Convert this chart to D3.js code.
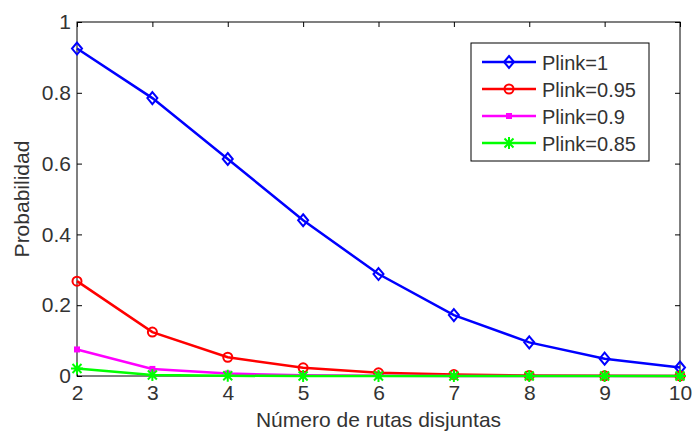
<!DOCTYPE html>
<html>
<head>
<meta charset="utf-8">
<script src="https://cdn.jsdelivr.net/npm/d3@7"></script>
<style>
  body { margin: 0; background: #fff; }
  svg { font-family: "Liberation Sans", Arial, sans-serif; }
</style>
</head>
<body>
<svg width="692" height="431"></svg>
<script>
// number of disjoint routes
const rutas = [2, 3, 4, 5, 6, 7, 8, 9, 10];
const plink1 = [0.925, 0.785, 0.613, 0.44, 0.288, 0.172, 0.095, 0.049, 0.024];
const plink095 = [0.268, 0.124, 0.053, 0.023, 0.009, 0.004, 0.0015, 0.0006, 0.0002];
const plink09 = [0.075, 0.02, 0.007, 0.002, 0.0006, 0.0002, 0.0001, 0, 0];
const plink085 = [0.021, 0.003, 0.0005, 0.0001, 0, 0, 0, 0, 0];
const seriesNames = ["Plink=1", "Plink=0.95", "Plink=0.9", "Plink=0.85"];
const xTicks = [2, 3, 4, 5, 6, 7, 8, 9, 10];
const yTicks = [0, 0.2, 0.4, 0.6, 0.8, 1];

const svg = d3.select("svg");
const margin = { left: 77, top: 22, right: 12, bottom: 55 };
const W = 692, H = 431;

const x = d3.scaleLinear().domain([2, 10]).range([margin.left, W - margin.right]);
const y = d3.scaleLinear().domain([0, 1]).range([H - margin.bottom, margin.top]);

const series = [
  { name: seriesNames[0], values: plink1, color: "#0000ff", marker: "diamond" },
  { name: seriesNames[1], values: plink095, color: "#ff0000", marker: "circle" },
  { name: seriesNames[2], values: plink09, color: "#ff00ff", marker: "point" },
  { name: seriesNames[3], values: plink085, color: "#00ff00", marker: "star" }
];

// frame
svg.append("rect")
  .attr("x", x(2)).attr("y", y(1))
  .attr("width", x(10) - x(2)).attr("height", y(0) - y(1))
  .attr("fill", "#fff").attr("stroke", "#000").attr("stroke-width", 1);

// axes with inward ticks
const tickFont = (g) => g.selectAll("text")
  .attr("font-size", 21).attr("fill", "#333");

svg.append("g")
  .attr("transform", `translate(0,${y(0)})`)
  .call(d3.axisBottom(x).tickValues(xTicks).tickSize(-5).tickPadding(9).tickFormat(d3.format("d")))
  .call((g) => g.select(".domain").remove())
  .call(tickFont);
svg.append("g")
  .attr("transform", `translate(0,${y(1)})`)
  .call(d3.axisTop(x).tickValues(xTicks).tickSize(-5).tickFormat(""))
  .call((g) => g.select(".domain").remove());
svg.append("g")
  .attr("transform", `translate(${x(2)},0)`)
  .call(d3.axisLeft(y).tickValues(yTicks).tickSize(-5).tickPadding(6).tickFormat(d3.format("")))
  .call((g) => g.select(".domain").remove())
  .call(tickFont);
svg.append("g")
  .attr("transform", `translate(${x(10)},0)`)
  .call(d3.axisRight(y).tickValues(yTicks).tickSize(-5).tickFormat(""))
  .call((g) => g.select(".domain").remove());

// labels
svg.append("text")
  .attr("x", (x(2) + x(10)) / 2).attr("y", 427)
  .attr("text-anchor", "middle").attr("font-size", 21).attr("fill", "#333")
  .text("Número de rutas disjuntas");
svg.append("text")
  .attr("transform", `translate(29,${(y(0) + y(1)) / 2}) rotate(-90)`)
  .attr("text-anchor", "middle").attr("font-size", 21).attr("fill", "#333")
  .text("Probabilidad");

function drawMarker(g, type, color) {
  if (type === "diamond") {
    g.append("path").attr("d", "M0,-6L5,0L0,6L-5,0Z")
      .attr("fill", "none").attr("stroke", color).attr("stroke-width", 2);
  } else if (type === "circle") {
    g.append("circle").attr("r", 4.5)
      .attr("fill", "none").attr("stroke", color).attr("stroke-width", 2);
  } else if (type === "point") {
    g.append("rect").attr("x", -3).attr("y", -3).attr("width", 6).attr("height", 6)
      .attr("fill", color);
  } else if (type === "star") {
    g.append("path").attr("d", "M-6,0H6M0,-6V6M-4.5,-4.5L4.5,4.5M-4.5,4.5L4.5,-4.5")
      .attr("stroke", color).attr("stroke-width", 2);
  }
}

const line = d3.line().x((d, i) => x(rutas[i])).y((d) => y(d));

series.forEach((s) => {
  svg.append("path")
    .datum(s.values)
    .attr("d", line)
    .attr("fill", "none")
    .attr("stroke", s.color)
    .attr("stroke-width", 2.5);
  s.values.forEach((v, i) => {
    const g = svg.append("g").attr("transform", `translate(${x(rutas[i])},${y(v)})`);
    drawMarker(g, s.marker, s.color);
  });
});

// legend
const legend = svg.append("g").attr("transform", "translate(471,43)");
legend.append("rect")
  .attr("width", 178).attr("height", 118)
  .attr("fill", "#fff").attr("stroke", "#000").attr("stroke-width", 1);
series.forEach((s, i) => {
  const ly = 19 + i * 27;
  legend.append("line")
    .attr("x1", 11).attr("x2", 65).attr("y1", ly).attr("y2", ly)
    .attr("stroke", s.color).attr("stroke-width", 2.5);
  drawMarker(legend.append("g").attr("transform", `translate(38,${ly})`), s.marker, s.color);
  legend.append("text")
    .attr("x", 71).attr("y", ly + 7.5)
    .attr("font-size", 20).attr("fill", "#333")
    .text(s.name);
});
</script>
</body>
</html>
